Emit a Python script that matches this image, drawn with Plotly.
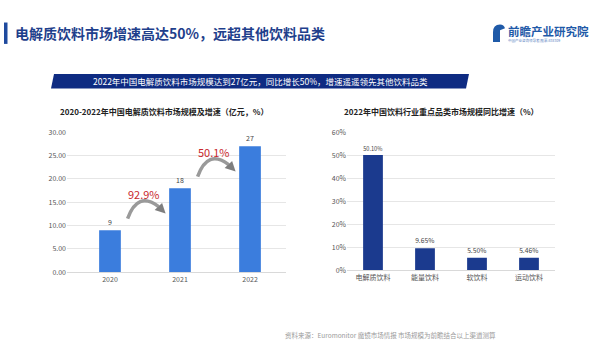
import plotly.graph_objects as go

# ---------------- data ----------------
years = ["2020", "2021", "2022"]
market_size = [9, 18, 27]
market_labels = ["9", "18", "27"]
growth_labels = ["92.9%", "50.1%"]

categories = ["电解质饮料", "能量饮料", "软饮料", "运动饮料"]
growth_rates = [50.10, 9.65, 5.50, 5.46]
growth_rate_labels = ["50.10%", "9.65%", "5.50%", "5.46%"]

left_ticks = [0, 5, 10, 15, 20, 25, 30]
right_ticks = [0, 10, 20, 30, 40, 50, 60]
right_tick_text = ["0%", "10%", "20%", "30%", "40%", "50%", "60%"]

FONT = "Noto Sans CJK SC"
W, H = 600, 356


def px(x):
    return x / W


def py(y):
    return 1 - y / H


fig = go.Figure()

fig.add_trace(go.Bar(
    x=[0, 1, 2], y=market_size, width=0.31,
    marker=dict(color="#3b7ddd", line=dict(width=0)),
    text=market_labels, textposition="outside",
    textfont=dict(size=7, color="#444444", family=FONT),
    cliponaxis=False, xaxis="x", yaxis="y", showlegend=False,
))

fig.add_trace(go.Bar(
    x=categories, y=growth_rates, width=0.38,
    marker=dict(color="#1b3a8e", line=dict(width=0)),
    text=growth_rate_labels, textposition="outside",
    textfont=dict(size=7, color="#444444", family=FONT),
    cliponaxis=False, xaxis="x2", yaxis="y2", showlegend=False,
))

axis_font = dict(size=7, color="#555555", family=FONT)

fig.update_layout(
    width=W, height=H,
    margin=dict(l=0, r=0, t=0, b=0),
    paper_bgcolor="white", plot_bgcolor="white",
    font=dict(family=FONT),
    xaxis=dict(domain=[px(67), px(286)], range=[-0.614, 2.514],
               tickvals=[0, 1, 2], ticktext=years, tickfont=axis_font,
               showgrid=False, zeroline=False, showline=True,
               linecolor="#d9d9d9", linewidth=1, ticks=""),
    yaxis=dict(domain=[py(274), py(130)], range=[0, 30],
               tickvals=left_ticks, tickformat=".2f", tickfont=axis_font,
               showgrid=True, gridcolor="#e6e6e6", gridwidth=1,
               zeroline=False, showline=False, ticks=""),
    xaxis2=dict(domain=[px(347), px(555)], anchor="y2",
                tickfont=axis_font, showgrid=False, zeroline=False,
                showline=True, linecolor="#d9d9d9", linewidth=1, ticks=""),
    yaxis2=dict(domain=[py(272), py(130)], anchor="x2", range=[0, 60],
                tickvals=right_ticks, ticktext=right_tick_text, tickfont=axis_font,
                showgrid=True, gridcolor="#e6e6e6", gridwidth=1,
                zeroline=False, showline=False, ticks=""),
)

shapes = []
annotations = []

# header accent bar
shapes.append(dict(type="rect", xref="paper", yref="paper",
                   x0=px(4), x1=px(7.5), y0=py(39), y1=py(17),
                   fillcolor="#1f4a9e", line=dict(width=0)))
annotations.append(dict(xref="paper", yref="paper", x=px(13), y=py(27.5),
                        xanchor="left", yanchor="middle", showarrow=False,
                        text="<b>电解质饮料市场增速高达50%，远超其他饮料品类</b>",
                        font=dict(size=14, color="#1f3f8c", family=FONT)))

# logo
shapes.append(dict(type="path", xref="paper", yref="paper",
                   path=f"M {px(493)} {py(37)} L {px(493)} {py(27)} Q {px(493)} {py(19)} {px(500)} {py(19)} "
                        f"Q {px(504)} {py(19)} {px(505)} {py(23)} L {px(500)} {py(25)} L {px(500)} {py(37)} Z",
                   fillcolor="#1f5aa8", line=dict(width=0)))
annotations.append(dict(xref="paper", yref="paper", x=px(506), y=py(26),
                        xanchor="left", yanchor="middle", showarrow=False,
                        text="<b>前瞻产业研究院</b>",
                        font=dict(size=11.5, color="#1f5aa8", family=FONT)))
annotations.append(dict(xref="paper", yref="paper", x=px(506), y=py(36),
                        xanchor="left", yanchor="middle", showarrow=False,
                        text="中国产业咨询领导者|股票:838309",
                        font=dict(size=3.5, color="#5a7fbf", family=FONT)))

# banner
shapes.append(dict(type="path", xref="paper", yref="paper",
                   path=f"M {px(51)} {py(85)} L {px(54)} {py(70)} L {px(469)} {py(70)} L {px(466)} {py(85)} Z",
                   fillcolor="#0e2b82", line=dict(width=0)))
annotations.append(dict(xref="paper", yref="paper", x=px(260), y=py(77),
                        xanchor="center", yanchor="middle", showarrow=False,
                        text="2022年中国电解质饮料市场规模达到27亿元，同比增长50%，增速遥遥领先其他饮料品类",
                        font=dict(size=8.5, color="white", family=FONT)))

# chart titles
annotations.append(dict(xref="paper", yref="paper", x=px(164), y=py(109),
                        xanchor="center", yanchor="middle", showarrow=False,
                        text="<b>2020-2022年中国电解质饮料市场规模及增速（亿元，%）</b>",
                        font=dict(size=8, color="#222222", family=FONT)))
annotations.append(dict(xref="paper", yref="paper", x=px(441), y=py(109),
                        xanchor="center", yanchor="middle", showarrow=False,
                        text="<b>2022年中国饮料行业重点品类市场规模同比增速（%）</b>",
                        font=dict(size=8, color="#222222", family=FONT)))

# growth arrows (pixel-sized, anchored near the bars) and labels
for i, lab in enumerate(growth_labels):
    v = market_size[i]
    ax_, ay_ = i + 0.78, v + 3.8
    shapes.append(dict(type="path", xref="x", yref="y",
                       xsizemode="pixel", ysizemode="pixel",
                       xanchor=ax_, yanchor=ay_,
                       path="M -37 -6 Q -27 22 -6 6",
                       line=dict(color="#9a9a9a", width=3.5)))
    shapes.append(dict(type="path", xref="x", yref="y",
                       xsizemode="pixel", ysizemode="pixel",
                       xanchor=ax_, yanchor=ay_,
                       path="M 1 -1 L -2.5 9.5 L -10 2.5 Z",
                       fillcolor="#7f7f7f", line=dict(width=0)))
    annotations.append(dict(xref="x", yref="y", x=i + 0.49, y=v + 7.8,
                            xanchor="center", yanchor="middle", showarrow=False,
                            text=lab, font=dict(size=11, color="#c8282d", family=FONT)))

# source
annotations.append(dict(xref="paper", yref="paper", x=px(283), y=py(339),
                        xanchor="left", yanchor="middle", showarrow=False,
                        text="资料来源：Euromonitor 魔镜市场情报 市场规模为前瞻结合以上渠道测算",
                        font=dict(size=6.5, color="#9a9a9a", family=FONT)))

fig.update_layout(shapes=shapes, annotations=annotations)
fig.write_html("out.html", config={"displayModeBar": False},
               post_script="document.body.style.margin='0';document.body.style.overflow='hidden';")
